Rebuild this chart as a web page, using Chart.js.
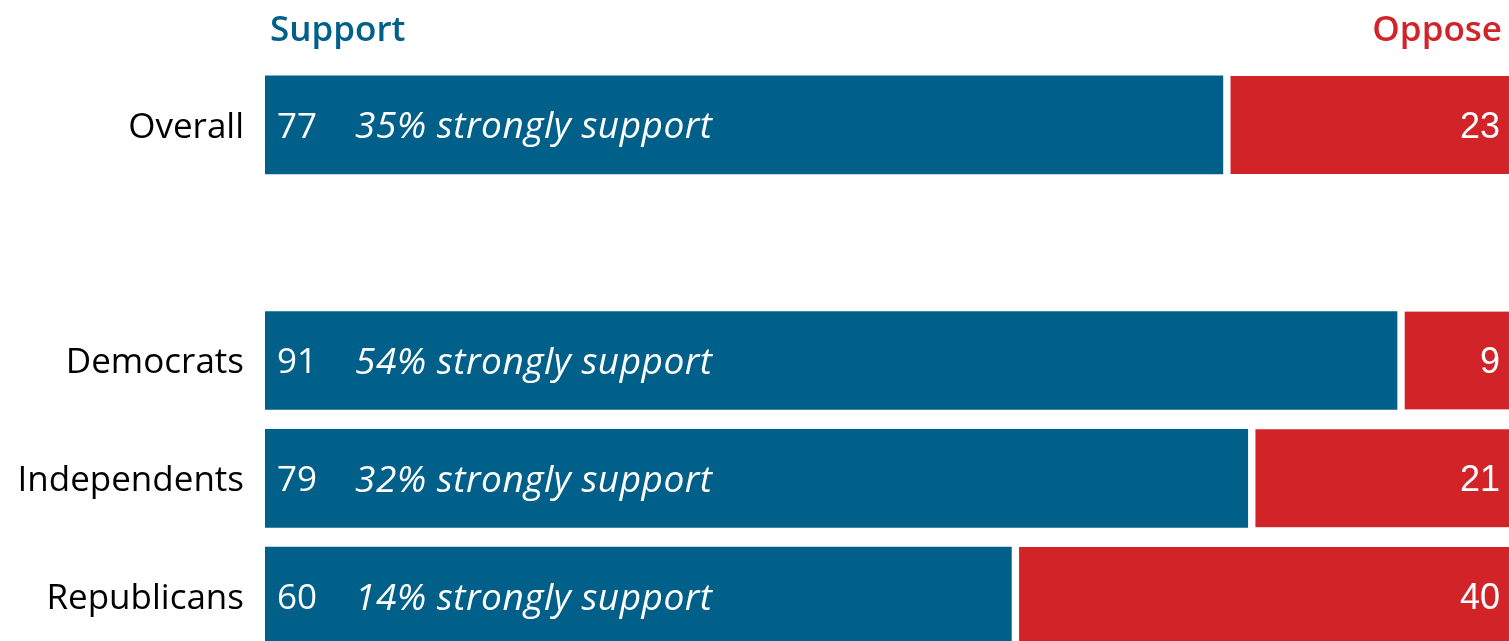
<!DOCTYPE html>
<html>
<head>
<meta charset="utf-8">
<script src="https://cdn.jsdelivr.net/npm/chart.js@4"></script>
<style>
  body { margin: 0; overflow: hidden; background: #fff; }
</style>
</head>
<body>
<canvas id="grafico" width="1509" height="660"></canvas>
<script>
// dados
const categorias = ['Overall', '', 'Democrats', 'Independents', 'Republicans'];
const apoio = [77, null, 91, 79, 60];
const contra = [23, null, 9, 21, 40];
const apoioForte = [35, null, 54, 32, 14];

const AZUL = '#00608a';
const VERMELHO = '#d22329';
const FONTE = '"Open Sans"';

// textos: categorias, valores dentro das barras e cabeçalhos
const rotulos = {
    id: 'rotulos',
    afterDatasetsDraw(chart) {
        const ctx = chart.ctx;
        const metaA = chart.getDatasetMeta(0);
        const metaC = chart.getDatasetMeta(1);
        const escalaY = chart.scales.y;
        ctx.save();
        ctx.textBaseline = 'middle';
        categorias.forEach((c, i) => {
            if (apoio[i] == null) return;
            const y = escalaY.getPixelForValue(i) + 3;
            const a = metaA.data[i];
            const v = metaC.data[i];
            ctx.letterSpacing = '0px';
            ctx.fillStyle = '#000';
            ctx.textAlign = 'right';
            ctx.font = '35px ' + FONTE;
            ctx.fillText(c, a.base - 21, y);
            ctx.fillStyle = '#fff';
            ctx.textAlign = 'left';
            ctx.fillText(String(apoio[i]), a.base + 12, y);
            ctx.font = 'italic 37px ' + FONTE;
            ctx.letterSpacing = '0.5px';
            ctx.fillText(apoioForte[i] + '% strongly support', a.base + 90, y);
            ctx.letterSpacing = '0px';
            ctx.textAlign = 'right';
            ctx.font = '36px "Liberation Sans"';
            ctx.fillText(String(contra[i]), v.x - 9, y);
        });
        ctx.textBaseline = 'alphabetic';
        ctx.font = '600 35px ' + FONTE;
        ctx.fillStyle = AZUL;
        ctx.textAlign = 'left';
        ctx.fillText('Support', 270, 41);
        ctx.fillStyle = VERMELHO;
        ctx.textAlign = 'right';
        ctx.fillText('Oppose', 1502, 41);
        ctx.restore();
    }
};

const ctx = document.getElementById('grafico').getContext('2d');
const grafico = new Chart(ctx, {
    type: 'bar',
    data: {
        labels: categorias,
        datasets: [{
            label: 'Support',
            data: apoio,
            backgroundColor: AZUL,
            borderWidth: 0,
            barThickness: 98
        }, {
            label: 'Oppose',
            data: contra,
            backgroundColor: VERMELHO,
            borderColor: '#fff',
            borderWidth: { left: 8, right: 0, top: 0, bottom: 0 },
            borderSkipped: false,
            barThickness: 98
        }]
    },
    options: {
        indexAxis: 'y',
        responsive: false,
        animation: false,
        layout: { padding: { top: 66, bottom: 5, left: 265, right: 0 } },
        plugins: {
            legend: { display: false },
            tooltip: { enabled: false }
        },
        scales: {
            x: {
                stacked: true,
                min: 0,
                max: 100,
                display: false
            },
            y: {
                stacked: true,
                display: false
            }
        }
    },
    plugins: [rotulos]
});
</script>
</body>
</html>
